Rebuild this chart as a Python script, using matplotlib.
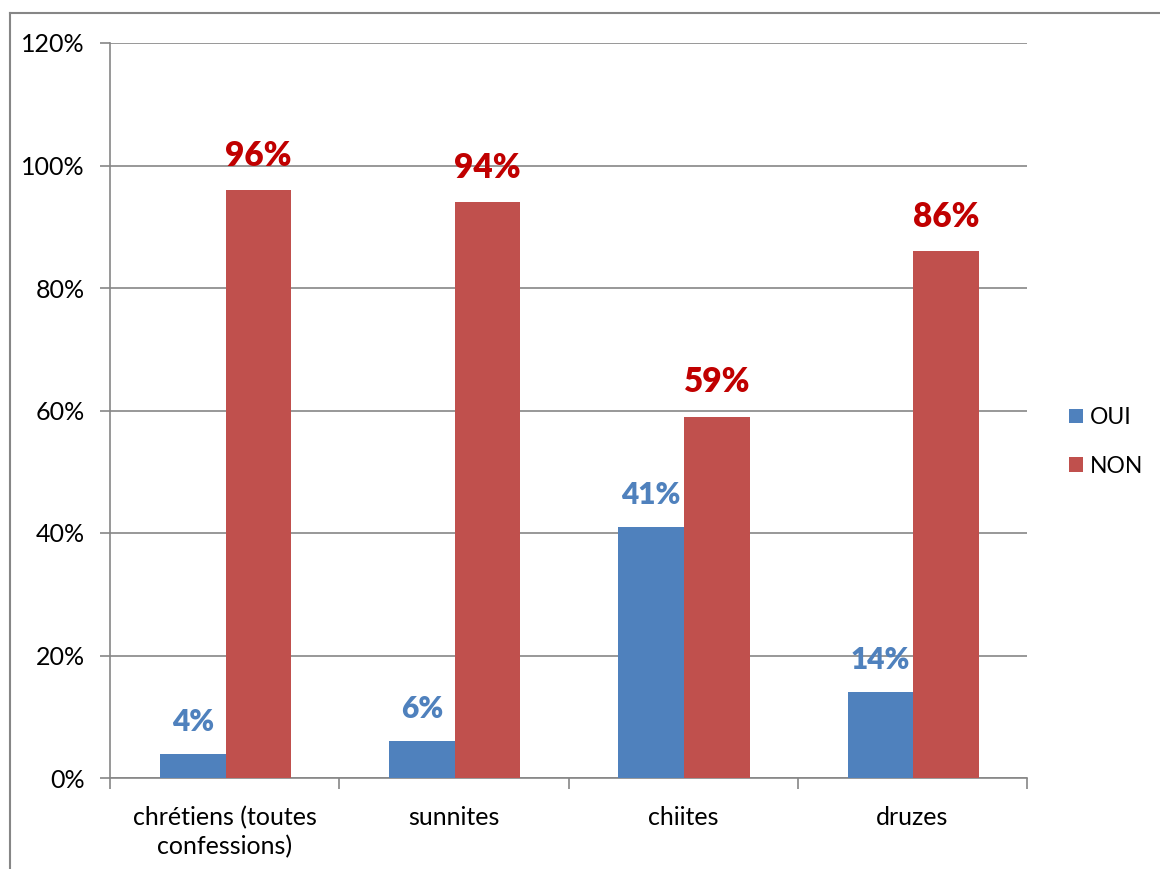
import matplotlib
matplotlib.use("Agg")
import matplotlib.pyplot as plt
from matplotlib.lines import Line2D
import numpy as np

categories = ["chrétiens (toutes\nconfessions)", "sunnites", "chiites", "druzes"]
oui = [4, 6, 41, 14]
non = [96, 94, 59, 86]
yticks = [0, 20, 40, 60, 80, 100, 120]

plt.rcParams['font.family'] = ['Lato', 'DejaVu Sans']

fig = plt.figure(figsize=(11.6, 8.69), dpi=100)
ax = fig.add_axes([110 / 1160, 1 - 778 / 869, 917 / 1160, 735 / 869])

grey = '#868686'
blue = '#4F81BD'
red = '#C0504D'

x = np.arange(len(categories))
w = 0.286
b1 = ax.bar(x - w / 2 + 0.004, oui, w, color=blue, label='OUI', zorder=3)
b2 = ax.bar(x + w / 2 + 0.004, non, w, color=red, label='NON', zorder=3)

for rect, v in zip(b1, oui):
    ax.text(rect.get_x() + rect.get_width() / 2, v + 5.2, f"{v}%", ha='center', va='center',
            color='#4F81BD', fontsize=21.5, fontweight='heavy', zorder=4)
for rect, v in zip(b2, non):
    ax.text(rect.get_x() + rect.get_width() / 2, v + 5.6, f"{v}%", ha='center', va='center',
            color='#C00000', fontsize=24, fontweight='heavy', zorder=4)

ax.set_xlim(-0.5, len(categories) - 0.5)
ax.set_ylim(0, 120)
ax.set_yticks(yticks)
ax.set_yticklabels([f"{t}%" for t in yticks])
ax.yaxis.grid(True, color=grey, linewidth=1.2, zorder=0)

ax.set_xticks(x)
ax.set_xticklabels(categories, linespacing=1.3)
ax.set_xticks(np.arange(len(categories) + 1) - 0.5, minor=True)
ax.tick_params(axis='x', which='major', length=0, pad=20, labelsize=18)
ax.tick_params(axis='x', which='minor', length=8, color=grey, width=1.2)
ax.tick_params(axis='y', length=7, color=grey, width=1.2, labelsize=18, pad=11)

for s in ['top', 'right']:
    ax.spines[s].set_visible(False)
for s in ['left', 'bottom']:
    ax.spines[s].set_color(grey)
    ax.spines[s].set_linewidth(1.2)

leg = fig.legend(handles=[b1, b2], loc='center left', bbox_to_anchor=(1053 / 1160, 1 - 442 / 869),
                 frameon=False, fontsize=16.5, handlelength=0.6, handleheight=0.6,
                 handletextpad=0.3, labelspacing=1.2, borderpad=0.2)

# outer chart frame (cut by the image edge on right and bottom)
fig.add_artist(Line2D([10 / 1160, 10 / 1160], [0, 1 - 13 / 869], color=grey, linewidth=1.5))
fig.add_artist(Line2D([10 / 1160, 1], [1 - 13 / 869, 1 - 13 / 869], color=grey, linewidth=1.5))

fig.savefig("out.png", dpi=100)
